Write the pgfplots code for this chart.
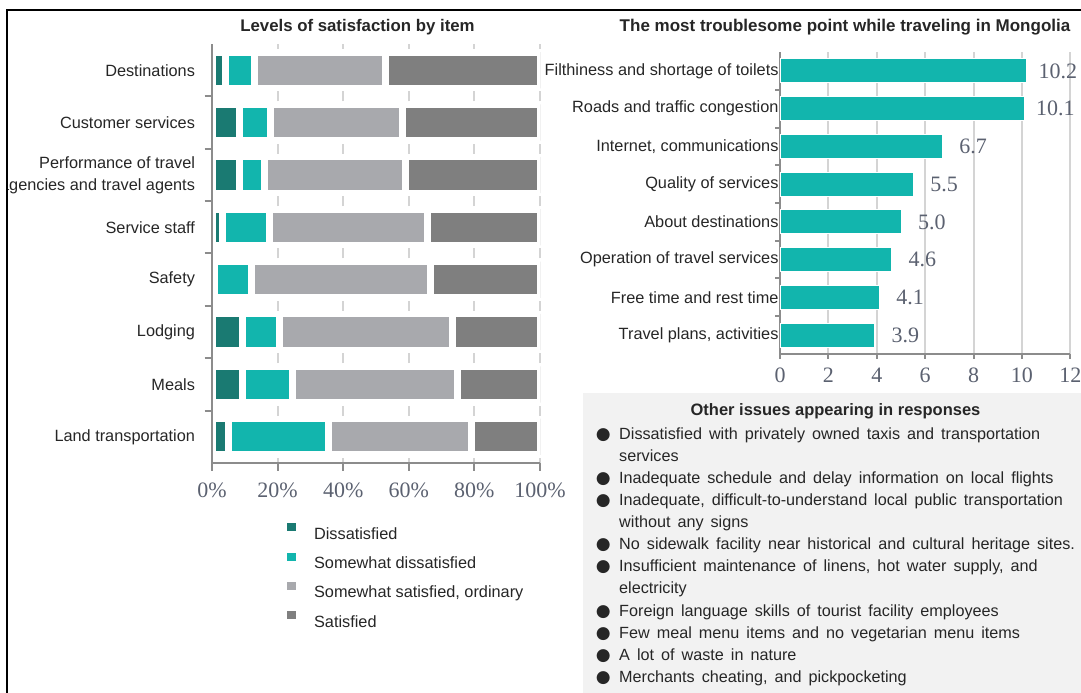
\documentclass[border=0pt]{standalone}
\usepackage{fontspec}
\setmainfont{Liberation Sans}
\newfontfamily\serif{Liberation Serif}
\newfontfamily\dejavu{DejaVu Sans}
\usepackage{pgfplots}
\pgfplotsset{compat=1.18}
\definecolor{dis}{HTML}{1A7A72}
\definecolor{sdis}{HTML}{12B5AD}
\definecolor{ssat}{HTML}{A8A9AD}
\definecolor{sat}{HTML}{7F7F7F}
\definecolor{txt}{HTML}{262626}
\definecolor{tickc}{HTML}{5B6170}
\definecolor{axl}{HTML}{8C8C8C}
\definecolor{gridc}{HTML}{D4D4D4}
\definecolor{boxbg}{HTML}{F2F2F2}
\pgfplotsset{sqlegend/.style={legend image code/.code={\fill[##1,draw=none] (0pt,3pt) rectangle (9pt,11pt); \path (0pt,0pt) (22pt,0pt);}}}
\newcommand\bul{\makebox[27pt][l]{\makebox[22pt][c]{\dejavu\fontsize{17}{22.1}\selectfont ●}}}
\newcommand\boxfont{\fontsize{16.2}{22.1}\selectfont\spaceskip=7pt plus 1pt\relax}
\begin{document}
\begin{tikzpicture}[x=1pt,y=1pt]
\useasboundingbox (0,0) rectangle (1081,693);
% text box background
\fill[boxbg] (583,0) rectangle (1081,300);
\node[font=\bfseries\fontsize{16.5}{19}\selectfont, text=txt] at (835.5,282) {Other issues appearing in responses};
\node[anchor=north west, inner sep=0pt, align=left, font=\boxfont, text=txt] at (592,269.4) {%
\strut\bul Dissatisfied with privately owned taxis and transportation\\
\hspace*{27pt}services\\
\bul Inadequate schedule and delay information on local flights\\
\bul Inadequate, difficult-to-understand local public transportation\\
\hspace*{27pt}without any signs\\
\bul No sidewalk facility near historical and cultural heritage sites.\\
\bul Insufficient maintenance of linens, hot water supply, and\\
\hspace*{27pt}electricity\\
\bul Foreign language skills of tourist facility employees\\
\bul Few meal menu items and no vegetarian menu items\\
\bul A lot of waste in nature\\
\bul Merchants cheating, and pickpocketing};
% titles
\node[font=\bfseries\fontsize{16.8}{19}\selectfont, text=txt] at (357.5,666) {Levels of satisfaction by item};
\node[font=\bfseries\fontsize{17}{19}\selectfont, text=txt] at (845,666) {The most troublesome point while traveling in Mongolia};
% left chart
\begin{axis}[
  at={(212pt,230pt)}, anchor=south west,
  scale only axis, width=328pt, height=419pt,
  xbar stacked, bar width=36.3pt,
  xmin=0, xmax=100, ymin=-0.5, ymax=7.5,
  axis on top,
  axis x line*=bottom, axis y line*=left,
  axis line style={-, axl, line width=2pt},
  xtick={0,20,...,100}, xticklabels={0\%,20\%,40\%,60\%,80\%,100\%},
  minor xtick={0,20,...,100},
  ytick={0,...,7},
  yticklabels={Land transportation,Meals,Lodging,Safety,Service staff,{Performance of travel\\agencies and travel agents},Customer services,Destinations},
  minor ytick={0.5,1.5,...,6.5},
  major tick length=0pt, minor tick length=7.5pt, tick align=outside,
  minor tick style={axl, line width=2pt},
  xmajorgrids,
  major grid style={gridc, line width=2pt, dash pattern=on 10pt off 42.375pt, dash phase=5pt},
  xticklabel style={font=\serif\fontsize{22}{26}\selectfont, text=tickc, yshift=-16pt},
  yticklabel style={font=\fontsize{16.3}{22}\selectfont, text=txt, align=right, xshift=-13.5pt},
  legend cell align=left,
  legend style={at={(axis description cs:0.207,-0.139)}, anchor=north west, draw=none, fill=none,
    font=\fontsize{16.3}{19}\selectfont, text=txt, row sep=9.5pt},
]
\addplot[fill=dis, draw=white, line width=7pt, sqlegend] coordinates {(5.1,0) (9.3,1) (9.3,2) (0.8,3) (3.2,4) (8.5,5) (8.5,6) (4.2,7)};
\addplot[fill=sdis, draw=white, line width=7pt, sqlegend] coordinates {(30.5,0) (15.1,1) (11.3,2) (11.3,3) (14.3,4) (7.6,5) (9.4,6) (8.7,7)};
\addplot[fill=ssat, draw=white, line width=7pt, sqlegend] coordinates {(43.6,0) (50.5,1) (52.6,2) (54.5,3) (48.1,4) (42.9,5) (40.3,6) (40.1,7)};
\addplot[fill=sat, draw=white, line width=7pt, sqlegend] coordinates {(20.8,0) (25.1,1) (26.8,2) (33.4,3) (34.4,4) (41.0,5) (41.8,6) (47.0,7)};
\legend{Dissatisfied,Somewhat dissatisfied,{Somewhat satisfied, ordinary},Satisfied}
\end{axis}
% right chart
\begin{axis}[
  at={(780pt,339pt)}, anchor=south west,
  scale only axis, width=290.3pt, height=302pt,
  xbar, bar width=24pt,
  xmin=0, xmax=12, ymin=-0.5, ymax=7.5,
  axis x line*=bottom, axis y line*=left,
  axis line style={-, axl, line width=2pt},
  xtick={0,2,...,12}, xticklabels={0,2,4,6,8,10,12},
  minor xtick={0,2,...,12},
  ytick={0,...,7},
  yticklabels={{Travel plans, activities},Free time and rest time,Operation of travel services,About destinations,Quality of services,{Internet, communications},Roads and traffic congestion,Filthiness and shortage of toilets},
  minor ytick={0.5,1.5,...,6.5},
  major tick length=0pt, minor tick length=5pt, tick align=outside,
  minor tick style={axl, line width=2pt},
  xmajorgrids,
  major grid style={gridc, line width=2pt},
  xticklabel style={font=\serif\fontsize{22}{26}\selectfont, text=tickc, yshift=-10pt},
  yticklabel style={font=\fontsize{16.3}{22}\selectfont, text=txt, xshift=2pt},
  nodes near coords={\pgfmathprintnumber[fixed,precision=1,fixed zerofill,assume math mode=true]{\pgfplotspointmeta}},
  every node near coord/.append style={anchor=center, xshift=31pt, font=\serif\fontsize{22}{26}\selectfont, text=tickc},
]
\addplot[fill=sdis, draw=white, line width=0.8pt] coordinates {(3.9,0) (4.1,1) (4.6,2) (5.0,3) (5.5,4) (6.7,5) (10.1,6) (10.2,7)};
\end{axis}
% frame
\fill[white] (0,0) rectangle (6,693);
\draw[black, line width=2.5pt] (7,0) -- (7,683) -- (1081,683);
\end{tikzpicture}
\end{document}
